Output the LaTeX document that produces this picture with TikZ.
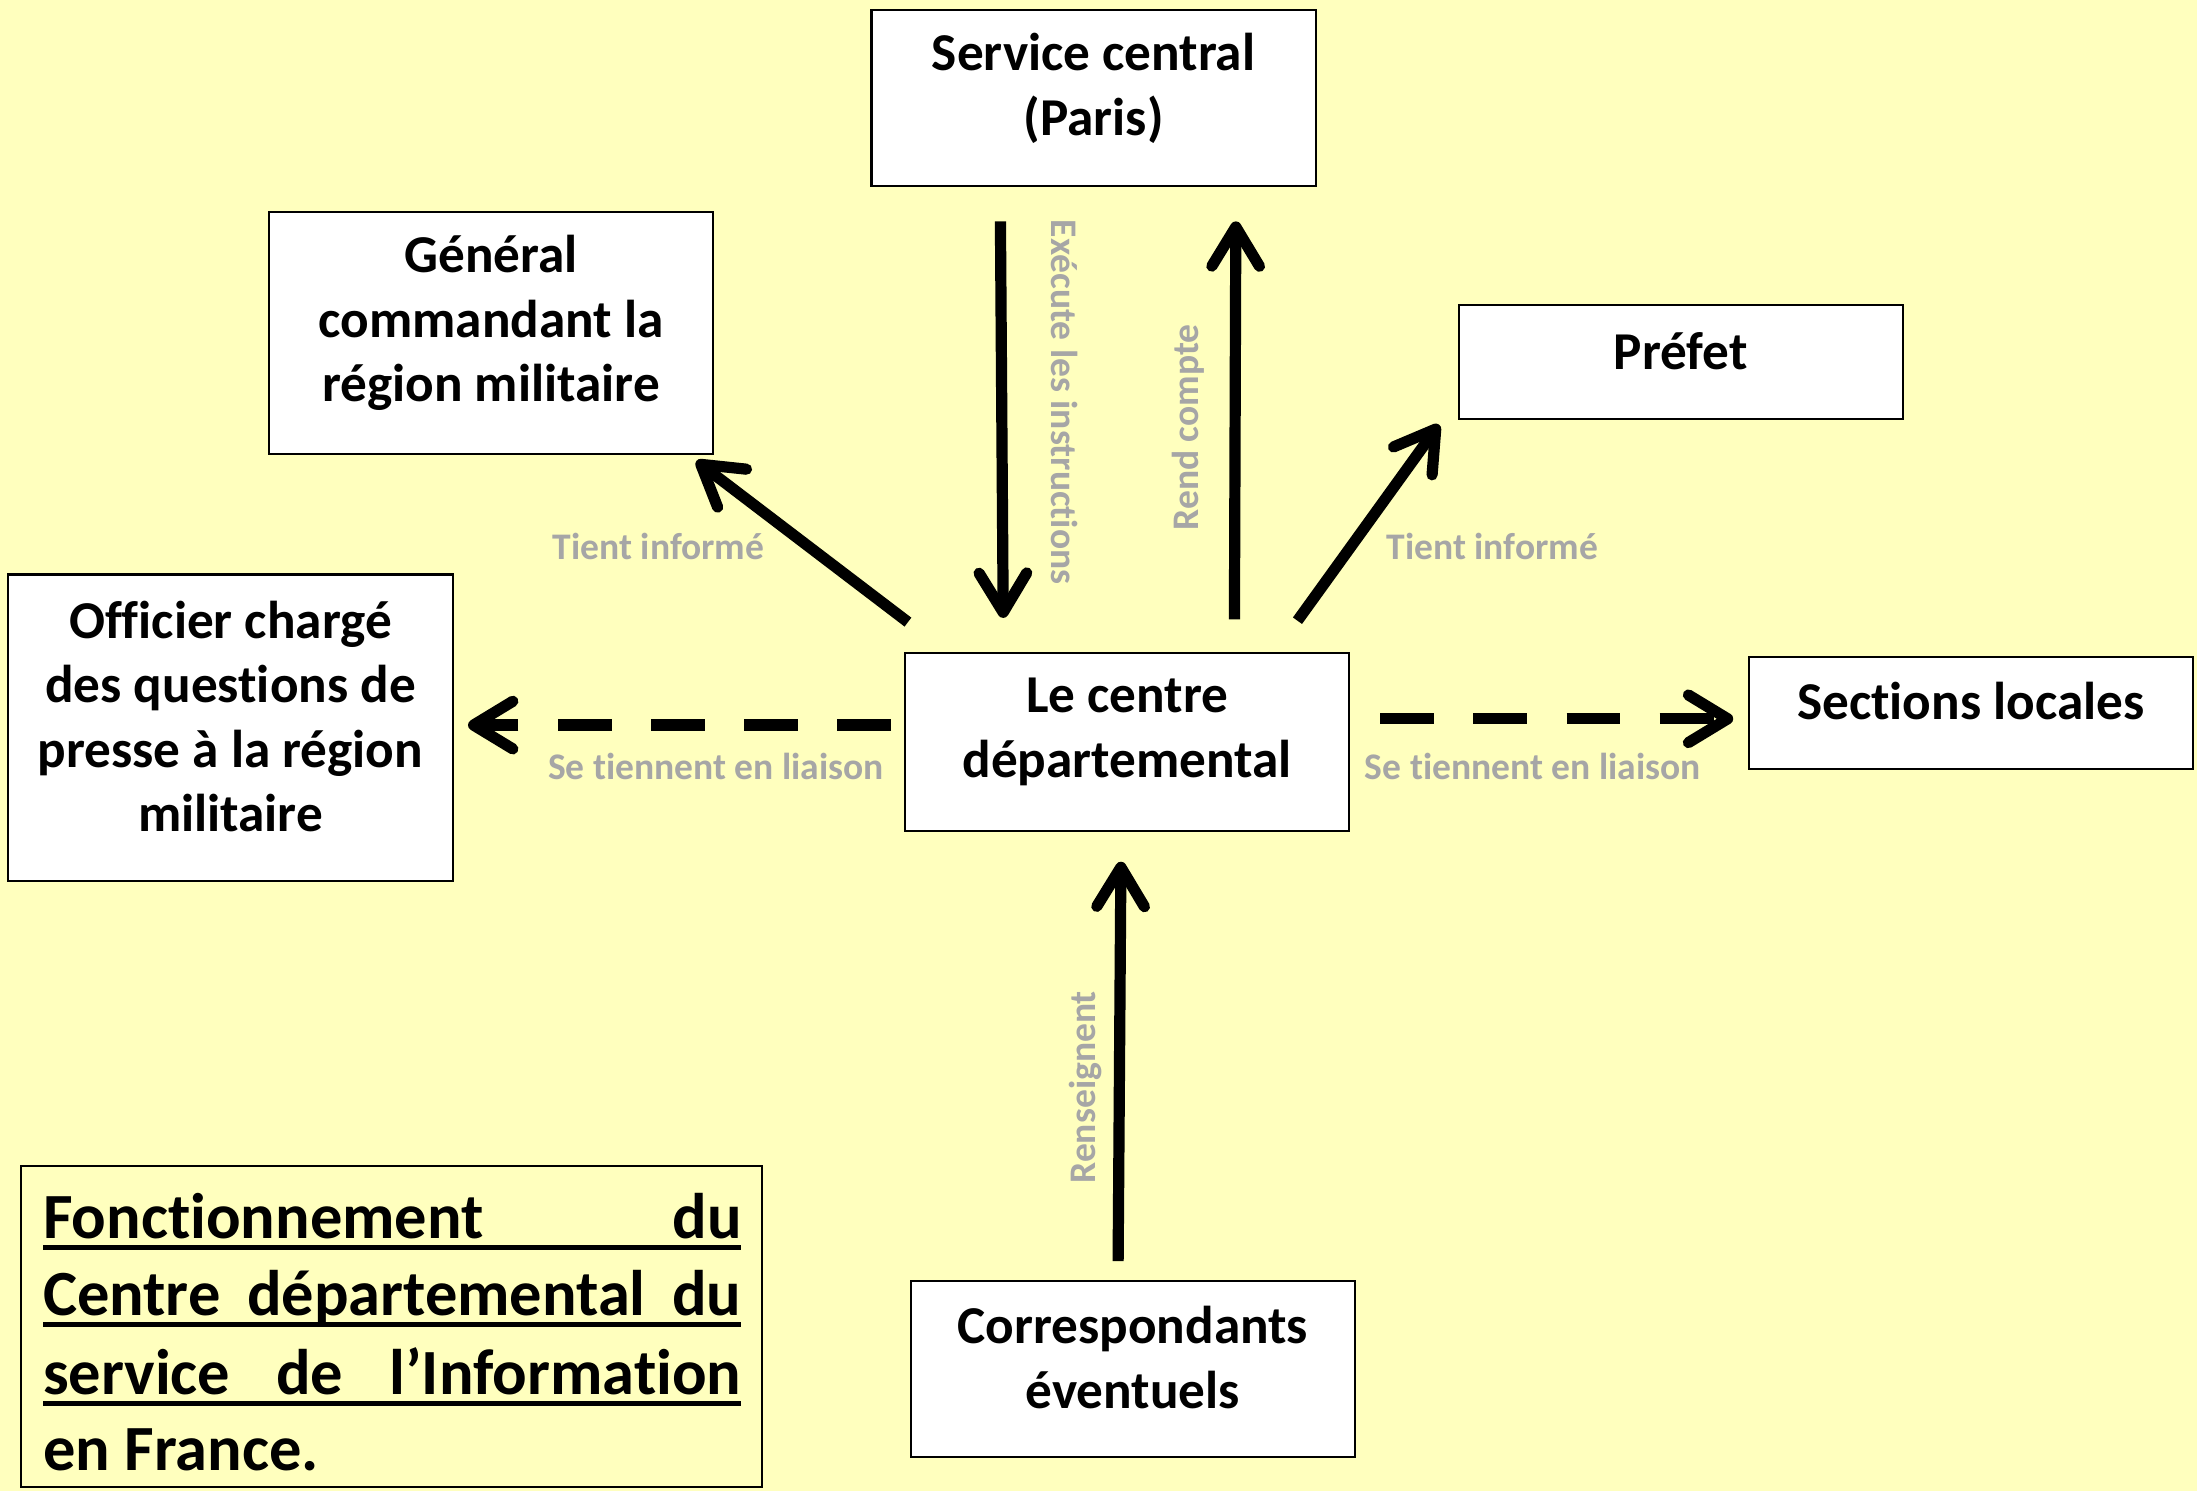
\documentclass[tikz,border=0pt]{standalone}
\usepackage{fontspec}
\setmainfont{Carlito}[Ligatures={NoCommon}]
\usetikzlibrary{arrows.meta}
\definecolor{bg}{RGB}{255,255,190}
\definecolor{lbl}{RGB}{166,166,166}
\newcommand\ulline[1]{\rlap{\rule[-8.3pt]{498.5pt}{3.8pt}}\makebox[498.5pt][s]{#1}}
\begin{document}
\begin{tikzpicture}[x=1pt,y=-1pt,
  box/.style={draw=black, line width=1.5pt, fill=white, minimum width=317pt, inner sep=0pt},
  boxtext/.style={font=\bfseries\fontsize{38}{46}\selectfont, align=center, inner sep=0pt},
  ttl/.style={font=\bfseries\fontsize{46}{55}\selectfont, inner sep=0pt, anchor=base west},
  lab/.style={font=\bfseries\fontsize{26.8}{30}\selectfont, text=lbl, inner sep=0pt},
  arr/.style={line width=8pt, -{Straight Barb[length=28pt,width=34pt,round]}},
  darr/.style={arr, dash pattern=on 38.5pt off 28pt}]
\fill[bg] (0,0) rectangle (1568,1064);
\useasboundingbox (0,0) rectangle (1568,1064);
% boxes
\node[box, minimum height=126pt] (sc) at (780.5,70) {};
\node[boxtext] (scT) at ([yshift=7pt]sc.center) {Service central\\(Paris)};
\node[box, minimum height=173pt] (gen) at (350.5,237.5) {};
\node[boxtext] (genT) at ([yshift=7pt]gen.center) {Général\\commandant la\\région militaire};
\node[box, minimum height=81pt] (pre) at (1199.5,258.5) {};
\node[boxtext] (preT) at ([yshift=8pt]pre.center) {Préfet};
\node[box, minimum height=219pt] (off) at (164.5,519.5) {};
\node[boxtext] (offT) at ([yshift=8pt]off.center) {Officier chargé\\des questions de\\presse à la région\\militaire};
\node[box, minimum height=127pt] (ctr) at (804.5,529.5) {};
\node[boxtext] (ctrT) at ([yshift=7pt]ctr.center) {Le centre\\départemental};
\node[box, minimum height=80pt] (sec) at (1406.5,509) {};
\node[boxtext] (secT) at ([yshift=9pt]sec.center) {Sections locales};
\node[box, minimum height=126pt] (cor) at (808.5,977) {};
\node[boxtext] (corT) at ([yshift=8pt]cor.center) {Correspondants\\éventuels};
% title
\node[draw=black, line width=1.5pt, fill=bg, minimum width=529pt, minimum height=229pt, inner sep=0pt] (tbox) at (279.5,946.5) {};
\node[ttl] (t1) at (30.5,884) {\ulline{Fonctionnement\hfill du}};
\node[ttl] (t2) at (30.5,939) {\ulline{Centre départemental du}};
\node[ttl] (t3) at (30.5,995.5) {\ulline{service de l’Information}};
\node[ttl] (t4) at (30.5,1049.5) {en France.};
% arrow end points
\coordinate (a1s) at (714,158);  \coordinate (a1e) at (716,441);
\coordinate (a2s) at (881,442);  \coordinate (a2e) at (882,158);
\coordinate (a3s) at (648,444);  \coordinate (a3e) at (497,329);
\coordinate (a4s) at (926,443);  \coordinate (a4e) at (1027,303);
\coordinate (a5s) at (636,517.5); \coordinate (a5e) at (334,517.5);
\coordinate (a6s) at (985,513);  \coordinate (a6e) at (1237,513);
\coordinate (a7s) at (798,900);  \coordinate (a7e) at (800,615);
\draw[arr] (a1s) -- (a1e);
\draw[arr] (a2s) -- (a2e);
\draw[arr] (a3s) -- (a3e);
\draw[arr] (a4s) -- (a4e);
\draw[darr] (a5s) -- (a5e);
\draw[darr] (a6s) -- (a6e);
\draw[arr] (a7s) -- (a7e);
% labels
\node[lab, rotate=-90] (l1) at (760,287) {Exécute les instructions};
\node[lab, rotate=90] (l2) at (848,305) {Rend compte};
\node[lab] (l3) at (470,390) {Tient informé};
\node[lab] (l4) at (1065,390) {Tient informé};
\node[lab] (l5) at (511,547) {Se tiennent en liaison};
\node[lab] (l6) at (1094,547) {Se tiennent en liaison};
\node[lab, rotate=90] (l7) at (775,776) {Renseignent};
\end{tikzpicture}
\end{document}
